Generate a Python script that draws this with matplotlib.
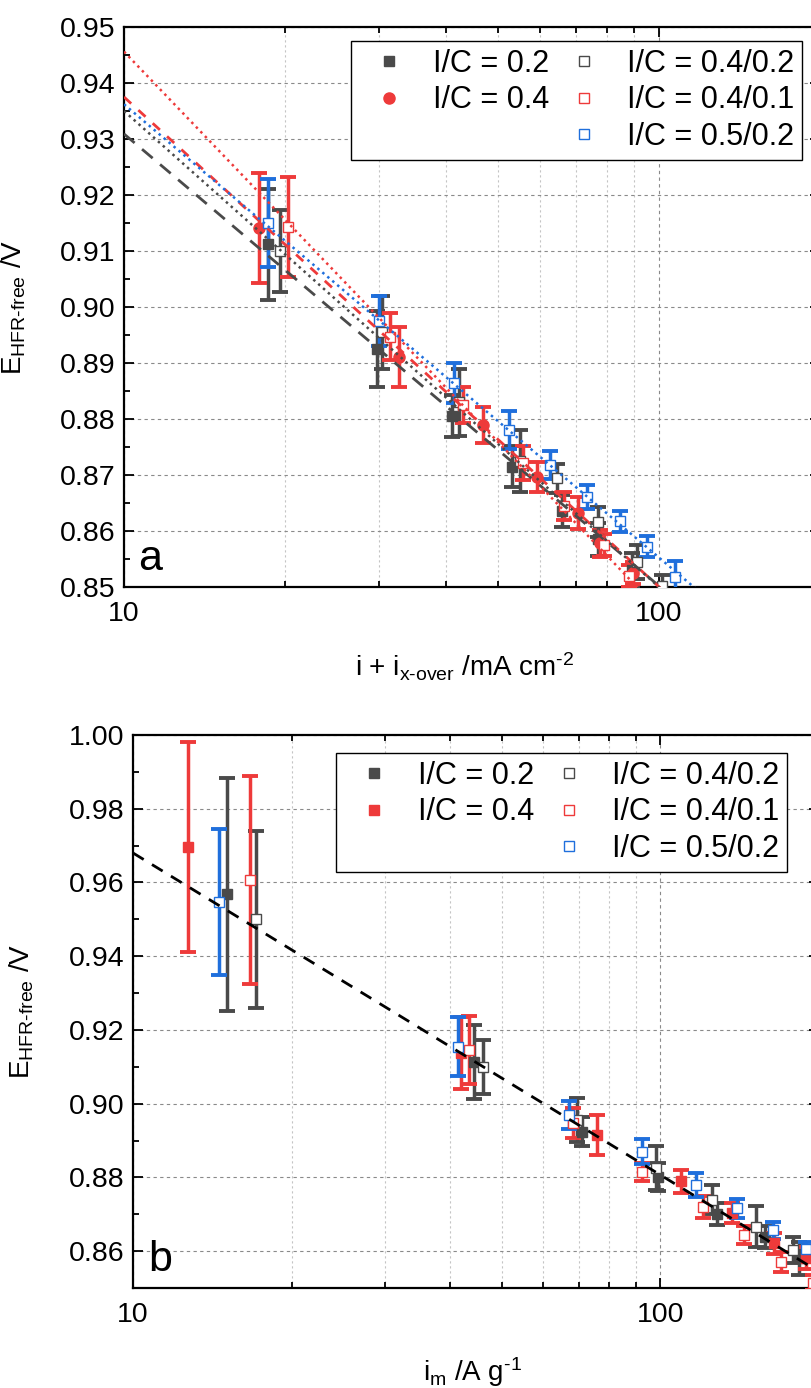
import numpy as np
import matplotlib
matplotlib.use("Agg")
import matplotlib.pyplot as plt
from matplotlib.lines import Line2D
from matplotlib.ticker import FixedLocator, FormatStrFormatter, NullFormatter, MultipleLocator

plt.rcParams['font.family'] = ['Liberation Sans', 'DejaVu Sans']
plt.rcParams['mathtext.fontset'] = 'custom'
plt.rcParams['mathtext.rm'] = 'Liberation Sans'
plt.rcParams['mathtext.it'] = 'Liberation Sans:italic'
plt.rcParams['mathtext.bf'] = 'Liberation Sans:bold'

GRAY = '#4a4a4a'
RED = '#ee3a3a'
BLUE = '#1f6fdc'

labels = ['I/C = 0.2', 'I/C = 0.4', 'I/C = 0.4/0.2', 'I/C = 0.4/0.1', 'I/C = 0.5/0.2']

# ---------------- Panel a data ----------------
a_x_02 = [18.6, 29.7, 41.0, 53.1, 65.8, 76.9, 89.0]
a_y_02 = [0.9112, 0.8925, 0.8805, 0.8715, 0.8636, 0.8585, 0.8530]
a_e_02 = [0.0099, 0.0068, 0.0038, 0.0036, 0.0028, 0.0030, 0.0030]

a_x_04 = [17.9, 32.7, 46.9, 59.1, 70.6, 77.6, 89.6]
a_y_04 = [0.9141, 0.8911, 0.8789, 0.8697, 0.8632, 0.8578, 0.8525]
a_e_04 = [0.0099, 0.0053, 0.0032, 0.0027, 0.0029, 0.0024, 0.0020]

a_x_0402 = [19.6, 30.3, 42.2, 55.0, 64.5, 76.9, 91.0, 101.5]
a_y_0402 = [0.9100, 0.8955, 0.8830, 0.8725, 0.8694, 0.8616, 0.8545, 0.8501]
a_e_0402 = [0.0074, 0.0065, 0.0060, 0.0055, 0.0026, 0.0027, 0.0030, 0.0020]

a_x_0401 = [20.3, 31.4, 43.0, 55.7, 66.5, 79.0, 88.0]
a_y_0401 = [0.9143, 0.8947, 0.8825, 0.8721, 0.8645, 0.8575, 0.8520]
a_e_0401 = [0.0090, 0.0042, 0.0033, 0.0030, 0.0025, 0.0020, 0.0020]

a_x_0502 = [18.6, 30.0, 41.4, 52.4, 62.5, 73.3, 84.5, 94.8, 107.2]
a_y_0502 = [0.9150, 0.8975, 0.8864, 0.8780, 0.8718, 0.8661, 0.8617, 0.8572, 0.8518]
a_e_0502 = [0.0078, 0.0045, 0.0036, 0.0034, 0.0025, 0.0022, 0.0018, 0.0019, 0.0028]

# fit lines (values at x = 10 and x = 200)
fit_x = [10, 200]
a_fit_02 = [0.9309, 0.8259]
a_fit_04 = [0.9375, 0.8237]
a_fit_0402 = [0.9350, 0.8244]
a_fit_0401 = [0.9456, 0.8159]
a_fit_0502 = [0.9362, 0.8309]

# ---------------- Panel b data ----------------
b_x_02 = [15.1, 44.3, 71.1, 98.9, 128.3, 158.0, 183.0]
b_y_02 = [0.9568, 0.9114, 0.8924, 0.8802, 0.8700, 0.8639, 0.8581]
b_e_02 = [0.0316, 0.0100, 0.0040, 0.0038, 0.0030, 0.0030, 0.0045]

b_x_04 = [12.7, 41.9, 76.0, 109.7, 136.9, 164.0, 189.0]
b_y_04 = [0.9697, 0.9138, 0.8915, 0.8789, 0.8703, 0.8621, 0.8581]
b_e_04 = [0.0285, 0.0098, 0.0053, 0.0032, 0.0027, 0.0029, 0.0030]

b_x_0402 = [17.1, 46.1, 69.5, 98.3, 125.6, 152.0, 178.6]
b_y_0402 = [0.9500, 0.9100, 0.8956, 0.8826, 0.8740, 0.8666, 0.8603]
b_e_0402 = [0.0240, 0.0074, 0.0060, 0.0060, 0.0040, 0.0056, 0.0034]

b_x_0401 = [16.7, 43.4, 68.3, 92.5, 120.6, 144.2, 169.4, 195.0]
b_y_0401 = [0.9607, 0.9145, 0.8947, 0.8814, 0.8719, 0.8644, 0.8571, 0.8514]
b_e_0401 = [0.0282, 0.0092, 0.0041, 0.0025, 0.0030, 0.0025, 0.0028, 0.0020]

b_x_0502 = [14.56, 41.4, 67.0, 92.5, 117.0, 139.7, 163.6, 189.0]
b_y_0502 = [0.9548, 0.9155, 0.8969, 0.8870, 0.8780, 0.8716, 0.8657, 0.8607]
b_e_0502 = [0.0198, 0.0079, 0.0038, 0.0035, 0.0032, 0.0026, 0.0023, 0.0018]

b_fit = [0.9680, 0.8544]

W, H = 811, 1388
fig = plt.figure(figsize=(W / 100, H / 100), dpi=100)

axA = fig.add_axes([124 / W, 1 - 587 / H, 696 / W, 560 / H])
axB = fig.add_axes([133 / W, 1 - 1288 / H, 686 / W, 553 / H])

FS_TICK = 20.5
FS_LEG = 22
FS_LAB = 20


def style_axes(ax, ylim, ymaj, ymin):
    ax.set_xscale('log')
    ax.set_xlim(10, 200)
    ax.set_ylim(*ylim)
    ax.yaxis.set_major_locator(MultipleLocator(ymaj))
    ax.yaxis.set_minor_locator(MultipleLocator(ymin))
    ax.yaxis.set_major_formatter(FormatStrFormatter('%.2f'))
    ax.xaxis.set_major_locator(FixedLocator([10, 100]))
    ax.xaxis.set_minor_locator(FixedLocator([20, 30, 40, 50, 60, 70, 80, 90]))
    ax.xaxis.set_major_formatter(FormatStrFormatter('%d'))
    ax.xaxis.set_minor_formatter(NullFormatter())
    ax.tick_params(which='both', direction='in', top=True, right=True, width=1.3,
                   labelsize=FS_TICK, color='black')
    ax.tick_params(which='major', length=7)
    ax.tick_params(which='minor', length=4)
    ax.tick_params(axis='x', which='major', pad=10)
    ax.tick_params(axis='y', which='major', pad=6)
    for s in ax.spines.values():
        s.set_linewidth(1.6)
    # grid
    ax.grid(True, axis='y', which='major', color='#8a8a8a', linestyle=(0, (3, 3)), linewidth=0.8)
    ax.grid(True, axis='x', which='minor', color='#c4c4c4', linestyle=(0, (2, 2.5)), linewidth=0.8)
    ax.grid(True, axis='x', which='major', color='#8a8a8a', linestyle=(0, (3, 3)), linewidth=0.8)
    ax.set_axisbelow(True)


style_axes(axA, (0.85, 0.95), 0.01, 0.005)
style_axes(axB, (0.85, 1.00), 0.02, 0.01)


def eb(ax, x, y, e, color, marker, filled, ms, z):
    ax.errorbar(x, y, yerr=e, fmt='none', ecolor=color, elinewidth=2.5,
                capsize=5.5, capthick=2.8, zorder=z)
    ax.plot(x, y, linestyle='none', marker=marker, markersize=ms,
            markerfacecolor=color if filled else 'white', markeredgecolor=color,
            markeredgewidth=1.0, zorder=z + 0.5)


# Panel a points
eb(axA, a_x_02, a_y_02, a_e_02, GRAY, 's', True, 7, 3)
eb(axA, a_x_04, a_y_04, a_e_04, RED, 'o', True, 8, 3)
eb(axA, a_x_0402, a_y_0402, a_e_0402, GRAY, 's', False, 7, 3)
eb(axA, a_x_0401, a_y_0401, a_e_0401, RED, 's', False, 7, 3)
eb(axA, a_x_0502, a_y_0502, a_e_0502, BLUE, 's', False, 7, 3)

# Panel a fits
axA.plot(fit_x, a_fit_02, color=GRAY, linestyle=(0, (5, 3.5)), linewidth=2.0, zorder=5)
axA.plot(fit_x, a_fit_04, color=RED, linestyle=(0, (3.5, 3.5)), linewidth=2.0, zorder=5)
axA.plot(fit_x, a_fit_0402, color=GRAY, linestyle=(0, (1, 1.6)), linewidth=1.8, zorder=5)
axA.plot(fit_x, a_fit_0401, color=RED, linestyle=(0, (1, 1.6)), linewidth=1.8, zorder=5)
axA.plot(fit_x, a_fit_0502, color=BLUE, linestyle=(0, (1, 1.6)), linewidth=1.8, zorder=5)

# Panel b points
eb(axB, b_x_02, b_y_02, b_e_02, GRAY, 's', True, 7, 3)
eb(axB, b_x_04, b_y_04, b_e_04, RED, 's', True, 7, 3)
eb(axB, b_x_0402, b_y_0402, b_e_0402, GRAY, 's', False, 7, 3)
eb(axB, b_x_0401, b_y_0401, b_e_0401, RED, 's', False, 7, 3)
eb(axB, b_x_0502, b_y_0502, b_e_0502, BLUE, 's', False, 7, 3)
axB.plot(fit_x, b_fit, color='black', linestyle=(0, (4.5, 3.5)), linewidth=2.0, zorder=5)


def legend(ax, anchor_px, second_marker):
    def h(color, marker, filled, ms):
        return Line2D([], [], linestyle='none', marker=marker, markersize=ms,
                      markerfacecolor=color if filled else 'white',
                      markeredgecolor=color, markeredgewidth=1.0)
    blank = Line2D([], [], linestyle='none')
    handles = [h(GRAY, 's', True, 7), h(RED, second_marker, True, 8 if second_marker == 'o' else 7), blank,
               h(GRAY, 's', False, 7), h(RED, 's', False, 7), h(BLUE, 's', False, 7)]
    labs = [labels[0], labels[1], ' ', labels[2], labels[3], labels[4]]
    leg = ax.legend(handles, labs, ncol=2, loc='upper left',
                    bbox_to_anchor=(anchor_px[0] / W, 1 - anchor_px[1] / H),
                    bbox_transform=fig.transFigure, borderaxespad=0,
                    fontsize=FS_LEG, frameon=True, fancybox=False, edgecolor='black',
                    framealpha=1, handlelength=2.0, handletextpad=0.42,
                    columnspacing=0.15, labelspacing=0.22, borderpad=0.25)
    leg.get_frame().set_linewidth(1.0)
    return leg


legend(axA, (351, 41), 'o')
legend(axB, (336, 753), 's')

# labels
axA.set_ylabel(r'E$_{\mathrm{HFR\text{-}free}}$ /V', fontsize=FS_LAB)
axB.set_ylabel(r'E$_{\mathrm{HFR\text{-}free}}$ /V', fontsize=FS_LAB)
axA.yaxis.set_label_coords(-(124 - 28) / 696, 0.5)
axB.yaxis.set_label_coords(-(133 - 36) / 686, 0.5)
axA.set_xlabel(r'i + i$_{\mathrm{x\text{-}over}}$ /mA cm$^{\text{-}2}$', fontsize=FS_LAB)
axB.set_xlabel(r'i$_{\mathrm{m}}$ /A g$^{\text{-}1}$', fontsize=FS_LAB)
axA.xaxis.set_label_coords((465 - 124) / 696, -(667 - 587) / 560)
axB.xaxis.set_label_coords((473 - 133) / 686, -(1372 - 1288) / 553)
axA.xaxis.label.set_va('center')
axB.xaxis.label.set_va('center')

axA.text(0.02, 0.03, 'a', transform=axA.transAxes, fontsize=31, ha='left', va='baseline')
axB.text(0.022, 0.03, 'b', transform=axB.transAxes, fontsize=31, ha='left', va='baseline')

fig.savefig('out.png', dpi=100)
